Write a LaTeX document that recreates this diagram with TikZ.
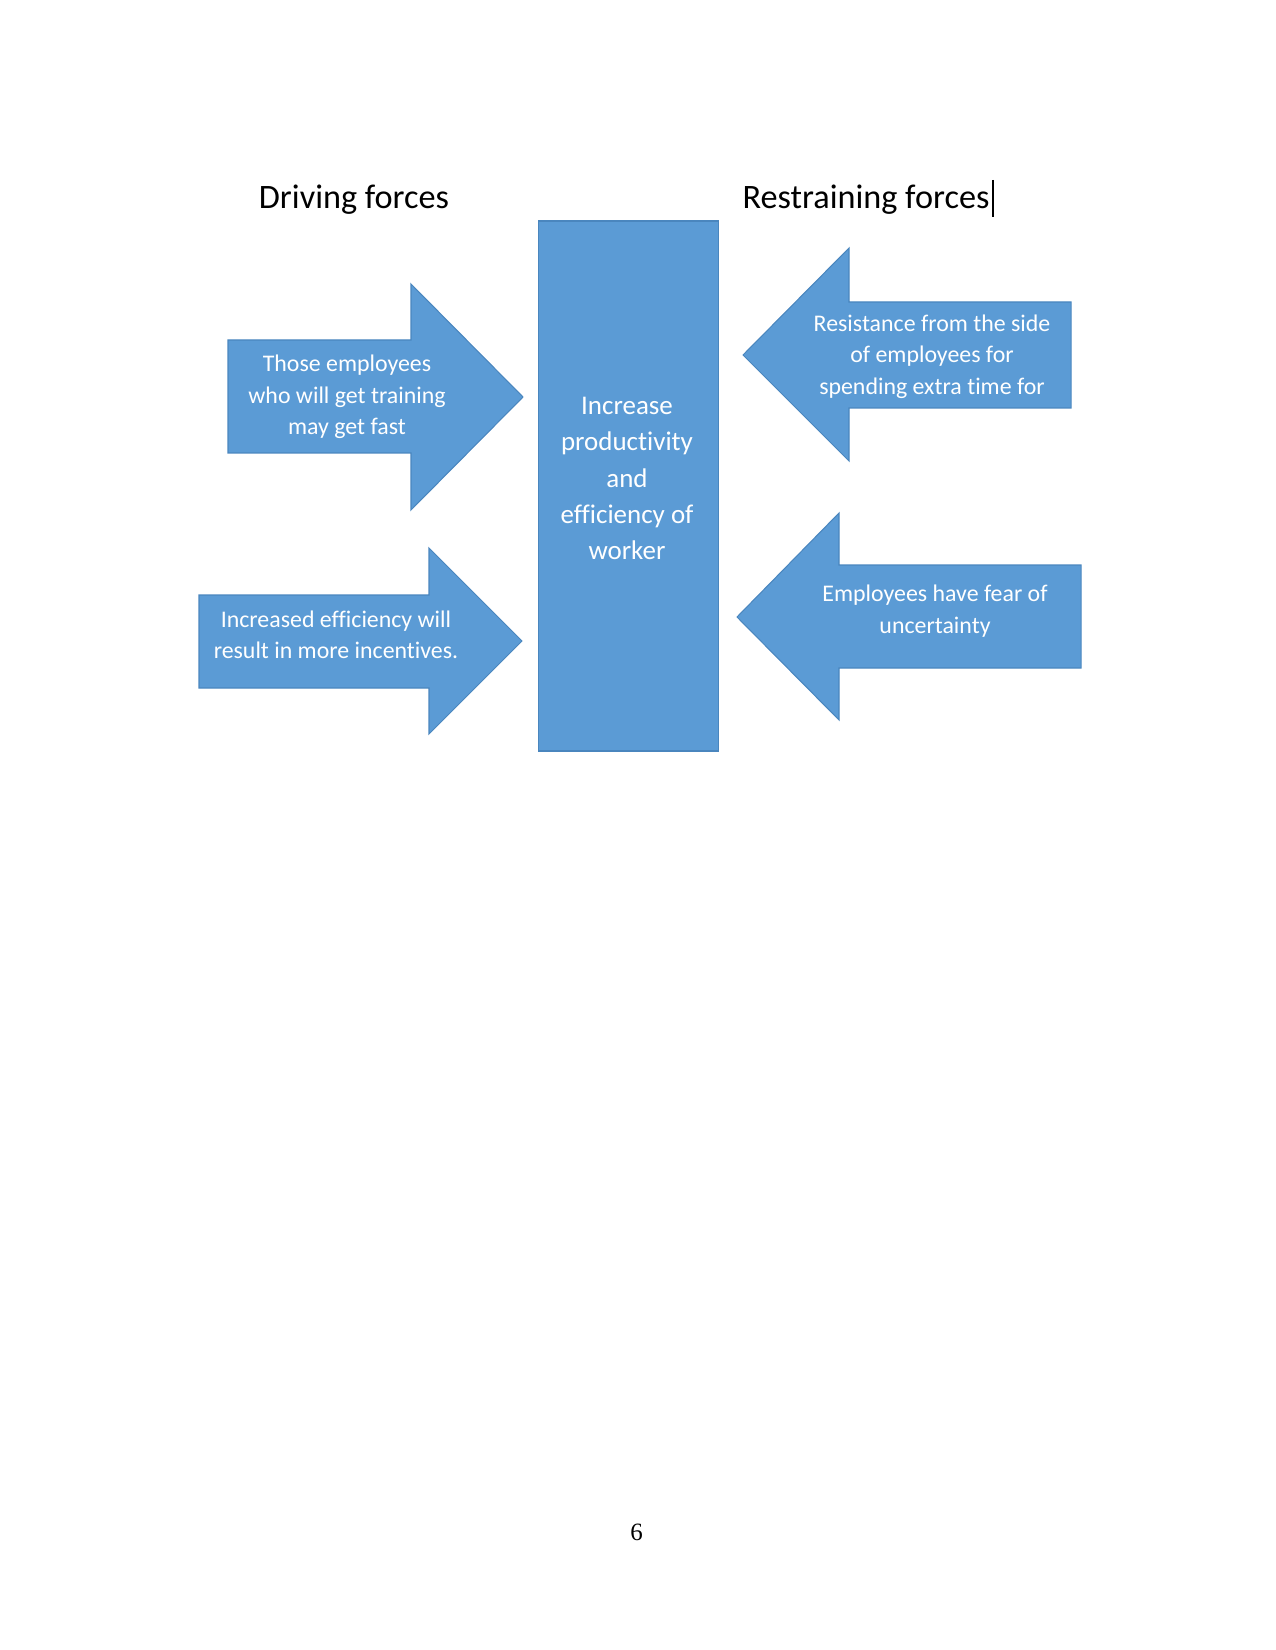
\documentclass[tikz,border=0pt]{standalone}
\usepackage{fontspec}
\setmainfont[Ligatures=NoCommon]{Carlito}
\newfontfamily\pagefont{Liberation Serif}
\definecolor{arrowblue}{HTML}{5B9BD5}
\definecolor{edgeblue}{HTML}{4A86BE}
\begin{document}
\begin{tikzpicture}[x=0.006667in,y=-0.006667in,
  shapefill/.style={fill=arrowblue,draw=edgeblue,line width=0.5pt,line join=miter},
  arrowtext/.style={text=white,align=center,font=\fontsize{11.5}{15.1}\selectfont,inner sep=0pt},
  title/.style={text=black,font=\fontsize{16.5}{19}\selectfont,inner sep=0pt}]
\useasboundingbox (0,0) rectangle (1275,1650);
% centre box
\draw[shapefill] (538.5,221) rectangle (718.5,751);
\node[arrowtext,font=\fontsize{13}{17.4}\selectfont] (goal) at (627,478.5) {Increase\\productivity\\and\\efficiency of\\worker};
% driving arrow 1
\draw[shapefill] (228,340) -- (411,340) -- (411,284) -- (523,397) -- (411,510) -- (411,453) -- (228,453) -- cycle;
\node[arrowtext] (d1) at (347,397) {Those employees\\who will get training\\may get fast};
% driving arrow 2
\draw[shapefill] (199,595) -- (429,595) -- (429,548) -- (522,641) -- (429,734) -- (429,688) -- (199,688) -- cycle;
\node[arrowtext] (d2) at (336,635) {Increased efficiency will\\result in more incentives.};
% restraining arrow 1
\draw[shapefill] (1071,302) -- (849,302) -- (849,248) -- (743,355) -- (849,461) -- (849,408) -- (1071,408) -- cycle;
\node[arrowtext] (r1) at (932,356.5) {Resistance from the side\\of employees for\\spending extra time for};
% restraining arrow 2
\draw[shapefill] (1081,565) -- (839,565) -- (839,513) -- (737,617) -- (839,720) -- (839,668) -- (1081,668) -- cycle;
\node[arrowtext] (r2) at (935,611) {Employees have fear of\\uncertainty};
% titles
\node[title] (tdrive) at (354,200) {Driving forces};
\node[title] (trestr) at (866,200) {Restraining forces};
\coordinate (cur1) at (993,180);
\coordinate (cur2) at (993,217);
\draw[line width=0.6pt] (cur1) -- (cur2);
% page number
\node[font=\pagefont\fontsize{12}{14}\selectfont,inner sep=0pt] (pnum) at (636.5,1532) {6};
\end{tikzpicture}
\end{document}
